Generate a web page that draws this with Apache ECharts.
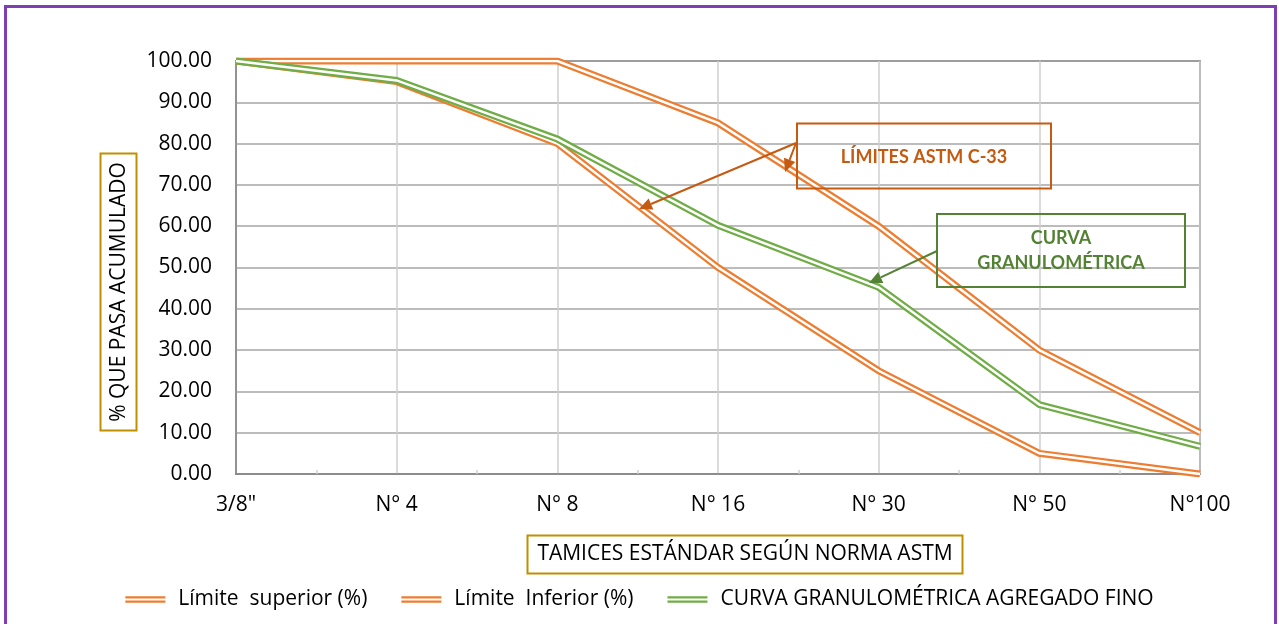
<!DOCTYPE html>
<html>
<head>
<meta charset="utf-8">
<script src="https://cdn.jsdelivr.net/npm/echarts@6/dist/echarts.min.js"></script>
<style>
  html, body { margin: 0; padding: 0; background: #fff; }
  #chart { width: 1279px; height: 624px; }
</style>
</head>
<body>
<div id="chart"></div>
<script>
// tamices (categorias del eje x)
const tamices = ['3/8"', 'N° 4', 'N° 8', 'N° 16', 'N° 30', 'N° 50', 'N°100'];
const yTicks = [0, 10, 20, 30, 40, 50, 60, 70, 80, 90, 100];

// valores (% que pasa)
const limiteSuperior = [100, 100, 100, 85, 60, 30, 10];
const limiteInferior = [100, 95, 80, 50, 25, 5, 0];
const curvaFino = [100, 95.3, 81.1, 60.2, 45.2, 16.8, 6.7];

const nombres = ['Límite  superior (%)', 'Límite  Inferior (%)', 'CURVA GRANULOMÉTRICA AGREGADO FINO'];
const colores = ['#ED7D31', '#ED7D31', '#70AD47'];

const FONT = '"Open Sans", "Noto Sans", sans-serif';
const FONT_B = 'Lato, "Open Sans", sans-serif';
const FS = 21;

const myChart = echarts.init(document.getElementById('chart'));

function pares(arr) {
    return arr.map((v, i) => [i, v]);
}

// linea doble: trazo grueso de color + trazo blanco fino encima
let series = [];
[limiteSuperior, limiteInferior, curvaFino].forEach((arr, k) => {
    series.push({
        name: nombres[k],
        type: 'line',
        data: pares(arr),
        symbol: 'none',
        color: colores[k],
        lineStyle: { width: 7, color: colores[k], cap: 'butt', join: 'miter' },
        z: 3
    });
    series.push({
        name: nombres[k] + ' _in',
        type: 'line',
        data: pares(arr),
        symbol: 'none',
        silent: true,
        lineStyle: { width: 2.5, color: '#ffffff', cap: 'butt', join: 'miter' },
        z: 3
    });
});

function flecha(x1, y1, x2, y2, color) {
    const ang = Math.atan2(y2 - y1, x2 - x1);
    const L = 13, W = 6;
    const bx = x2 - L * Math.cos(ang), by = y2 - L * Math.sin(ang);
    const px = -Math.sin(ang) * W, py = Math.cos(ang) * W;
    return [
        { type: 'line', shape: { x1: x1, y1: y1, x2: bx, y2: by }, style: { stroke: color, lineWidth: 2 }, z: 20 },
        { type: 'polygon', shape: { points: [[x2, y2], [bx + px, by + py], [bx - px, by - py]] }, style: { fill: color }, z: 20 }
    ];
}

const option = {
    animation: false,
    grid: {
        left: 236, right: 79, top: 61, bottom: 150,
        show: true, borderColor: '#595959', borderWidth: 1.5, backgroundColor: 'transparent'
    },
    legend: {
        data: nombres,
        bottom: 9,
        left: 'center',
        icon: 'path://M0,0H40V2.2H0ZM0,4.4H40V6.6H0Z',
        itemWidth: 40,
        itemHeight: 7,
        itemGap: 34,
        itemStyle: { borderWidth: 0 },
        textStyle: { fontFamily: FONT, fontSize: FS, color: '#000', padding: [0, 0, 0, 8] }
    },
    xAxis: {
        type: 'value',
        min: 0, max: tamices.length - 1, interval: 1,
        axisLine: { show: true, lineStyle: { color: '#868686', width: 1.5 } },
        axisTick: { show: false, inside: true },
        minorTick: { show: true, splitNumber: 2, length: 4, lineStyle: { color: '#D0D0D0', width: 1.5 } },
        splitLine: { show: true, lineStyle: { color: '#CFCFCF', width: 1.5 } },
        axisLabel: {
            margin: 21,
            fontFamily: FONT, fontSize: FS, color: '#000',
            formatter: v => tamices[v] || ''
        }
    },
    yAxis: {
        type: 'value',
        min: yTicks[0], max: yTicks[yTicks.length - 1], interval: 10,
        axisLine: { show: true, lineStyle: { color: '#868686', width: 1.5 } },
        axisTick: { show: false },
        splitLine: { show: true, lineStyle: { color: '#A6A6A6', width: 1.5 } },
        axisLabel: {
            margin: 24,
            fontFamily: FONT, fontSize: FS, color: '#000',
            formatter: v => v.toFixed(2)
        }
    },
    series: series,
    graphic: [
        // marco exterior
        { type: 'rect', shape: { x: 5.5, y: 6.5, width: 1270, height: 660 }, style: { fill: 'none', stroke: '#7E3FB5', lineWidth: 3 }, silent: true, z: 0 },
        // titulo eje y
        { type: 'rect', shape: { x: 100.5, y: 153.5, width: 36, height: 277 }, style: { fill: '#fff', stroke: '#BF9000', lineWidth: 2 }, z: 10 },
        { type: 'text', x: 119, y: 292, rotation: Math.PI / 2,
          style: { text: '% QUE PASA ACUMULADO', fontFamily: FONT, fontSize: FS, fill: '#000', align: 'center', verticalAlign: 'middle' }, z: 11 },
        // titulo eje x
        { type: 'rect', shape: { x: 527.5, y: 535.5, width: 435, height: 38 }, style: { fill: '#fff', stroke: '#BF9000', lineWidth: 2 }, z: 10 },
        { type: 'text', x: 745, y: 554,
          style: { text: 'TAMICES ESTÁNDAR SEGÚN NORMA ASTM', fontFamily: FONT, fontSize: FS, fill: '#000', align: 'center', verticalAlign: 'middle' }, z: 11 },
        // anotacion limites
        { type: 'rect', shape: { x: 797, y: 123.5, width: 254, height: 65 }, style: { fill: 'none', stroke: '#C55A11', lineWidth: 2 }, z: 20 },
        { type: 'text', x: 924, y: 157,
          style: { text: 'LÍMITES ASTM C-33', fontFamily: FONT_B, fontWeight: 'bold', fontSize: 18, fill: '#C55A11', align: 'center', verticalAlign: 'middle' }, z: 20 },
        ...flecha(796, 143, 785, 172, '#C55A11'),
        ...flecha(796, 143, 639, 209, '#C55A11'),
        // anotacion curva
        { type: 'rect', shape: { x: 937, y: 214, width: 248, height: 73 }, style: { fill: 'none', stroke: '#548235', lineWidth: 2 }, z: 20 },
        { type: 'text', x: 1061, y: 251,
          style: { text: 'CURVA\nGRANULOMÉTRICA', lineHeight: 25, fontFamily: FONT_B, fontWeight: 'bold', fontSize: 18, fill: '#548235', align: 'center', verticalAlign: 'middle' }, z: 20 },
        ...flecha(937, 251, 869, 283, '#548235')
    ]
};

myChart.setOption(option);
</script>
</body>
</html>
